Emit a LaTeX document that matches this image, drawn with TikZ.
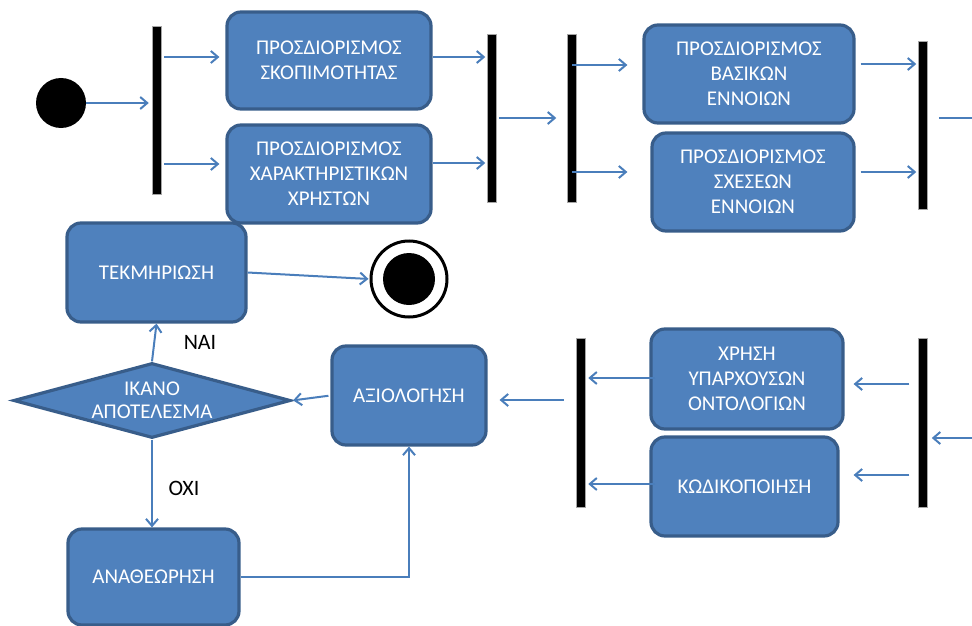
\documentclass[tikz,border=0pt]{standalone}
\usepackage{fontspec}
\setmainfont{Carlito}
\usetikzlibrary{arrows.meta,shapes.geometric}
\definecolor{boxfill}{HTML}{4F81BD}
\definecolor{boxline}{HTML}{385D8A}
\definecolor{connclr}{HTML}{4A7EBB}
\begin{document}
\begin{tikzpicture}[x=1pt,y=-1pt,
  task/.style={draw=boxline, fill=boxfill, line width=3.2pt, rounded corners=14pt,
    text=white, align=center, font=\fontsize{21}{25}\selectfont, inner sep=0pt},
  decision/.style={diamond, aspect=3.7, draw=boxline, fill=boxfill, line width=3.2pt,
    text=white, align=center, font=\fontsize{21}{23.5}\selectfont, inner sep=0pt,
    minimum width=277pt, minimum height=75pt},
  bar/.style={draw=gray!70, fill=black, line width=0.5pt, minimum width=9pt, inner sep=0pt},
  conn/.style={draw=connclr, line width=2pt, -{Straight Barb[length=7pt,width=12pt]}},
  plain/.style={draw=connclr, line width=2pt},
  lbl/.style={font=\fontsize{22}{26}\selectfont, text=black}
]
\useasboundingbox (0,0) rectangle (972,626);

% initial and final states
\node[circle, fill=black, minimum size=50pt, inner sep=0pt] (start) at (61,103) {};
\node[circle, draw=black, line width=3pt, minimum size=76pt, inner sep=0pt] (final) at (409,279) {};
\node[circle, fill=black, minimum size=52pt, inner sep=0pt] (finaldot) at (final) {};

% synchronisation bars
\node[bar, minimum height=168pt] (bar1) at (156.5,110) {};
\node[bar, minimum height=168pt] (bar2) at (492,118) {};
\node[bar, minimum height=168pt] (bar3) at (572,118) {};
\node[bar, minimum height=168pt] (bar4) at (923,125) {};
\node[bar, minimum height=169pt] (bar5) at (923,422.5) {};
\node[bar, minimum height=169pt] (bar6) at (580.5,422.5) {};

% activities
\node[task, minimum width=204pt, minimum height=97pt] (b1) at (329,60.5) {ΠΡΟΣΔΙΟΡΙΣΜΟΣ\\ΣΚΟΠΙΜΟΤΗΤΑΣ};
\node[task, minimum width=204pt, minimum height=98pt] (b2) at (329,174) {ΠΡΟΣΔΙΟΡΙΣΜΟΣ\\ΧΑΡΑΚΤΗΡΙΣΤΙΚΩΝ\\ΧΡΗΣΤΩΝ};
\node[task, minimum width=210pt, minimum height=98pt] (b3) at (749,74) {ΠΡΟΣΔΙΟΡΙΣΜΟΣ\\ΒΑΣΙΚΩΝ\\ΕΝΝΟΙΩΝ};
\node[task, minimum width=202pt, minimum height=98pt] (b4) at (753,182) {ΠΡΟΣΔΙΟΡΙΣΜΟΣ\\ΣΧΕΣΕΩΝ\\ΕΝΝΟΙΩΝ};
\node[task, minimum width=192pt, minimum height=100pt] (b5) at (747,379) {ΧΡΗΣΗ\\ΥΠΑΡΧΟΥΣΩΝ\\ΟΝΤΟΛΟΓΙΩΝ};
\node[task, minimum width=187pt, minimum height=99pt] (b6) at (744.5,486.5) {ΚΩΔΙΚΟΠΟΙΗΣΗ};
\node[task, minimum width=154pt, minimum height=99pt] (eval) at (409,395.5) {ΑΞΙΟΛΟΓΗΣΗ};
\node[task, minimum width=179pt, minimum height=99pt] (tekm) at (156.5,272.5) {ΤΕΚΜΗΡΙΩΣΗ};
\node[task, minimum width=171pt, minimum height=96pt] (anath) at (153.5,577) {ΑΝΑΘΕΩΡΗΣΗ};
\node[decision] (dec) at (152,400.5) {ΙΚΑΝΟ\\ΑΠΟΤΕΛΕΣΜΑ};

% guard labels
\node[lbl] (yes) at (200,342) {ΝΑΙ};
\node[lbl] (no) at (184,488) {ΟΧΙ};

% free ends at the right margin
\coordinate (exitR) at (972,118);
\coordinate (entryR) at (972,438);

% upper flow
\draw[conn, shorten >=3pt] (start.east) -- (bar1.west |- start.east);
\draw[conn, shorten <=3pt, shorten >=6pt] (bar1.east |- 0,57) -- (b1.west |- 0,57);
\draw[conn, shorten <=3pt, shorten >=6pt] (bar1.east |- 0,164) -- (b2.west |- 0,164);
\draw[conn, shorten >=2pt] (b1.east |- 0,57) -- (bar2.west |- 0,57);
\draw[conn, shorten >=2pt] (b2.east |- 0,163) -- (bar2.west |- 0,163);
\draw[conn, shorten <=2pt, shorten >=11pt] (bar2.east) -- (bar3.west);
\draw[conn, shorten >=15pt] (bar3.center |- 0,65) -- (b3.west |- 0,65);
\draw[conn, shorten >=23pt] (bar3.center |- 0,172) -- (b4.west |- 0,172);
\draw[conn, shorten <=5pt, shorten >=2pt] (b3.east |- 0,64) -- (bar4.west |- 0,64);
\draw[conn, shorten <=5pt, shorten >=2pt] (b4.east |- 0,172) -- (bar4.west |- 0,172);
\draw[plain, shorten <=11pt] (bar4.east |- exitR) -- (exitR);

% lower flow
\draw[conn, shorten >=4pt] (entryR) -- (bar5.east |- entryR);
\draw[conn, shorten <=9pt, shorten >=9pt] (bar5.west |- 0,384) -- (b5.east |- 0,384);
\draw[conn, shorten <=9pt, shorten >=14pt] (bar5.west |- 0,475) -- (b6.east |- 0,475);
\draw[conn, shorten <=-6pt, shorten >=3pt] (b5.west |- 0,378) -- (bar6.east |- 0,378);
\draw[conn, shorten <=-6pt, shorten >=3pt] (b6.west |- 0,484) -- (bar6.east |- 0,484);
\draw[conn, shorten <=12pt, shorten >=12pt] (bar6.west |- 0,400) -- (eval.east |- 0,400);
\draw[conn, shorten <=2pt, shorten >=1pt] (eval.west) -- (dec.east);
\draw[conn] (dec.north) -- (tekm.south);
\draw[conn] (dec.south) -- (dec.south |- anath.north);
\draw[conn] (anath.east) -| (eval.south);
\draw[conn, shorten >=1pt] (tekm.east) -- (final.west);
\end{tikzpicture}
\end{document}
